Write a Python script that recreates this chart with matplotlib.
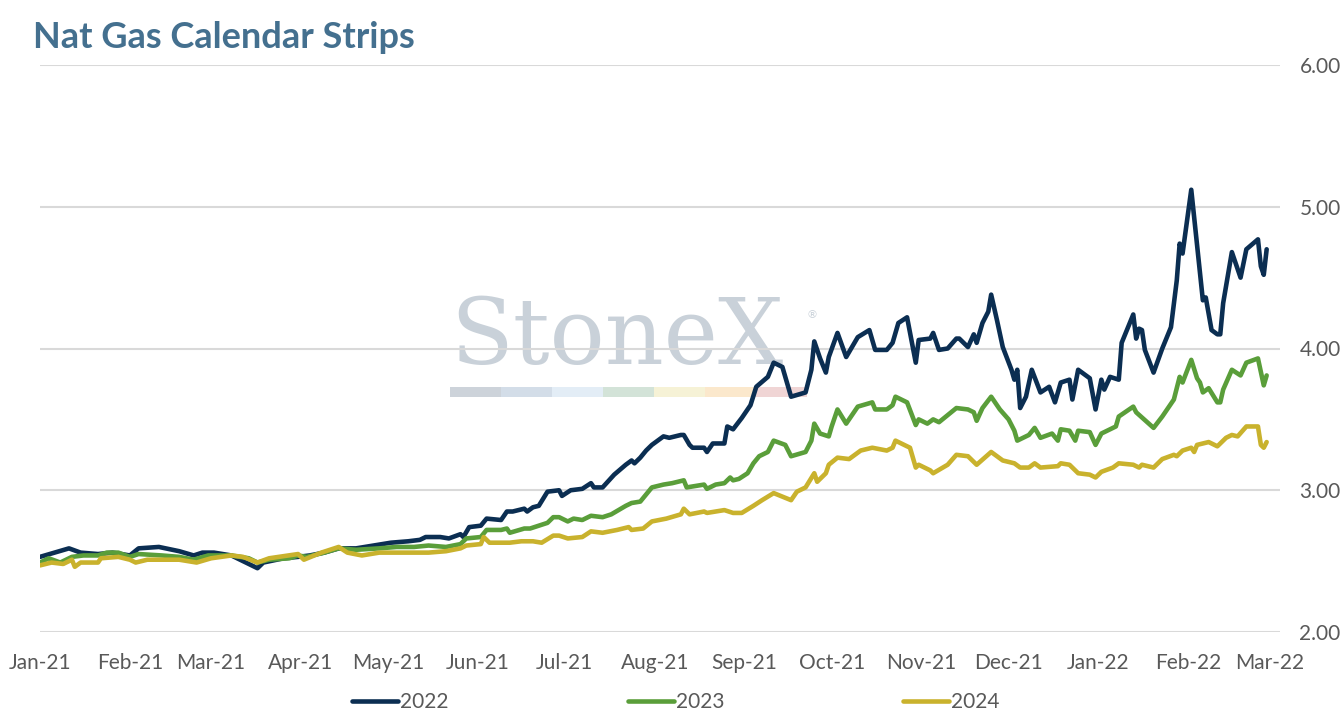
import matplotlib
matplotlib.use("Agg")
import matplotlib.pyplot as plt
import matplotlib.dates as mdates
import matplotlib.patches as mpatches
import pandas as pd

# ---------------- data ----------------
base_date = "2021-01-01"

days_2022 = [0, 10, 14, 20, 25, 31, 34, 41, 48, 53, 56, 60, 66, 69, 75, 77, 84, 89, 93, 98,
             103, 109, 115, 121, 127, 131, 133, 138, 141, 145, 146, 148, 152, 154, 159, 161,
             163, 167, 168, 170, 172, 175, 179, 180, 183, 187, 190, 191, 194, 198, 202, 204,
             205, 207, 209, 211, 215, 217, 221, 222, 224, 225, 229, 230, 232, 236, 237, 239,
             242, 245, 247, 251, 253, 256, 259, 264, 266, 267, 269, 271, 272, 275, 278, 282,
             286, 288, 292, 294, 296, 299, 302, 303, 307, 308, 310, 313, 316, 317, 320, 322,
             323, 325, 327, 328, 330, 332, 335, 336, 337, 338, 340, 342, 345, 348, 350, 352,
             355, 356, 358, 362, 364, 366, 367, 369, 372, 373, 377, 378, 379, 380, 381, 384,
             387, 390, 392, 393, 394, 397, 401, 402, 404, 406, 407, 408, 411, 414, 416, 420,
             421, 422, 423]
vals_2022 = [2.53, 2.59, 2.56, 2.55, 2.56, 2.54, 2.59, 2.60, 2.57, 2.54, 2.56, 2.56, 2.54, 2.51,
             2.45, 2.49, 2.52, 2.53, 2.54, 2.56, 2.59, 2.59, 2.61, 2.63, 2.64, 2.65, 2.67, 2.67,
             2.66, 2.69, 2.67, 2.74, 2.75, 2.80, 2.79, 2.85, 2.85, 2.87, 2.85, 2.88, 2.89, 2.99,
             3.00, 2.96, 3.00, 3.01, 3.05, 3.02, 3.02, 3.11, 3.18, 3.21, 3.19, 3.23, 3.28, 3.32,
             3.38, 3.37, 3.39, 3.39, 3.32, 3.30, 3.30, 3.27, 3.33, 3.33, 3.45, 3.43, 3.51, 3.60,
             3.73, 3.80, 3.90, 3.87, 3.66, 3.69, 3.85, 4.05, 3.93, 3.83, 3.94, 4.11, 3.94, 4.08,
             4.13, 3.99, 3.99, 4.04, 4.18, 4.22, 3.90, 4.06, 4.07, 4.11, 3.99, 4.00, 4.07, 4.07,
             4.01, 4.10, 4.04, 4.18, 4.26, 4.38, 4.20, 4.01, 3.85, 3.78, 3.85, 3.58, 3.66, 3.85,
             3.69, 3.73, 3.62, 3.76, 3.78, 3.64, 3.85, 3.79, 3.57, 3.78, 3.71, 3.80, 3.78, 4.04,
             4.24, 4.07, 4.14, 4.13, 3.99, 3.83, 4.00, 4.15, 4.48, 4.74, 4.67, 5.12, 4.34, 4.36,
             4.13, 4.10, 4.10, 4.32, 4.68, 4.50, 4.70, 4.77, 4.58, 4.52, 4.70]

days_2023 = [0, 3, 7, 11, 15, 20, 23, 27, 31, 34, 42, 48, 53, 58, 61, 66, 69, 72, 75, 79, 86,
             89, 92, 98, 103, 109, 117, 123, 129, 134, 140, 145, 147, 152, 154, 159, 161, 162,
             167, 169, 172, 175, 177, 179, 182, 184, 187, 190, 194, 197, 202, 204, 207, 209,
             211, 215, 218, 222, 223, 229, 230, 233, 236, 238, 239, 241, 244, 246, 248, 251,
             253, 257, 259, 264, 266, 267, 269, 272, 273, 275, 278, 282, 287, 288, 292, 294,
             295, 299, 302, 303, 306, 308, 310, 316, 320, 322, 323, 325, 328, 331, 334, 336,
             337, 341, 343, 345, 349, 351, 352, 355, 357, 358, 362, 364, 366, 368, 371, 372,
             377, 378, 384, 387, 391, 393, 394, 397, 399, 400, 401, 403, 406, 407, 408, 411,
             414, 416, 420, 422, 423]
vals_2023 = [2.49, 2.52, 2.49, 2.53, 2.54, 2.54, 2.56, 2.56, 2.53, 2.55, 2.54, 2.53, 2.51, 2.54,
             2.54, 2.54, 2.53, 2.52, 2.49, 2.51, 2.52, 2.54, 2.53, 2.56, 2.59, 2.58, 2.59, 2.60,
             2.60, 2.61, 2.60, 2.62, 2.66, 2.67, 2.72, 2.72, 2.73, 2.70, 2.73, 2.73, 2.75, 2.77,
             2.81, 2.81, 2.78, 2.80, 2.79, 2.82, 2.81, 2.83, 2.89, 2.91, 2.92, 2.97, 3.02, 3.04,
             3.05, 3.07, 3.02, 3.04, 3.01, 3.04, 3.05, 3.09, 3.07, 3.08, 3.12, 3.19, 3.24, 3.27,
             3.35, 3.32, 3.24, 3.27, 3.35, 3.47, 3.40, 3.38, 3.45, 3.57, 3.47, 3.59, 3.62, 3.57,
             3.57, 3.60, 3.66, 3.62, 3.46, 3.50, 3.47, 3.50, 3.48, 3.58, 3.57, 3.55, 3.49, 3.58,
             3.66, 3.57, 3.50, 3.42, 3.35, 3.39, 3.44, 3.37, 3.40, 3.35, 3.43, 3.42, 3.35, 3.42,
             3.41, 3.32, 3.40, 3.42, 3.45, 3.52, 3.59, 3.55, 3.44, 3.52, 3.64, 3.80, 3.76, 3.92,
             3.79, 3.76, 3.69, 3.72, 3.62, 3.62, 3.71, 3.85, 3.81, 3.90, 3.93, 3.74, 3.81]

days_2024 = [0, 4, 8, 11, 12, 14, 20, 21, 27, 31, 33, 37, 42, 48, 54, 59, 66, 70, 75, 79, 89,
             91, 97, 103, 106, 111, 117, 123, 129, 134, 140, 145, 147, 152, 153, 155, 162, 166,
             170, 173, 177, 179, 182, 187, 190, 194, 199, 203, 204, 208, 211, 216, 221, 222,
             224, 229, 230, 236, 239, 242, 246, 249, 253, 259, 261, 264, 267, 268, 271, 272,
             275, 279, 283, 287, 292, 294, 295, 300, 302, 303, 307, 308, 313, 316, 320, 323,
             328, 332, 336, 338, 341, 343, 345, 351, 352, 355, 358, 362, 364, 366, 370, 372,
             377, 379, 380, 384, 387, 391, 392, 394, 397, 398, 399, 403, 406, 409, 411, 413,
             416, 420, 421, 422, 423]
vals_2024 = [2.47, 2.49, 2.48, 2.51, 2.46, 2.49, 2.49, 2.52, 2.53, 2.51, 2.49, 2.51, 2.51, 2.51,
             2.49, 2.52, 2.54, 2.53, 2.49, 2.52, 2.55, 2.51, 2.56, 2.60, 2.56, 2.54, 2.56, 2.56,
             2.56, 2.56, 2.57, 2.59, 2.61, 2.62, 2.67, 2.63, 2.63, 2.64, 2.64, 2.63, 2.68, 2.68,
             2.66, 2.67, 2.71, 2.70, 2.72, 2.74, 2.72, 2.73, 2.78, 2.80, 2.83, 2.87, 2.83, 2.85,
             2.84, 2.86, 2.84, 2.84, 2.89, 2.93, 2.98, 2.93, 2.99, 3.02, 3.12, 3.06, 3.12, 3.18,
             3.23, 3.22, 3.28, 3.30, 3.28, 3.30, 3.35, 3.30, 3.16, 3.18, 3.14, 3.12, 3.18, 3.25,
             3.24, 3.18, 3.27, 3.21, 3.19, 3.16, 3.16, 3.19, 3.16, 3.17, 3.19, 3.18, 3.12, 3.11,
             3.09, 3.13, 3.16, 3.19, 3.18, 3.16, 3.18, 3.16, 3.22, 3.25, 3.24, 3.28, 3.30, 3.27,
             3.32, 3.34, 3.31, 3.37, 3.39, 3.38, 3.45, 3.45, 3.32, 3.30, 3.34]

series_names = ["2022", "2023", "2024"]
series_colors = ["#0b2e52", "#5a9e3a", "#c9b22d"]
month_ticks = pd.date_range("2021-01-01", "2022-03-01", freq="MS")
y_ticks = [2.0, 3.0, 4.0, 5.0, 6.0]
title_text = "Nat Gas Calendar Strips"
watermark_text = "StoneX"

# ---------------- figure ----------------
W, H = 1344, 724
fig = plt.figure(figsize=(W / 100, H / 100), dpi=100)
fig.patch.set_facecolor("white")

def fx(px):
    return px / W

def fy(py):
    return 1 - py / H

ax = fig.add_axes([fx(40), fy(632), fx(1280) - fx(40), fy(65) - fy(632)])
ax.patch.set_alpha(0)

# watermark (StoneX logo as faint text + colour band), under grid and lines
wm_color = "#c9d1d9"
ax.text(fx(450), fy(364), watermark_text, transform=fig.transFigure, fontsize=66,
        family="DejaVu Serif", color=wm_color, ha="left", va="baseline", zorder=0.05,
        clip_on=False)
ax.text(fx(806), fy(318), "®", transform=fig.transFigure, fontsize=8, color=wm_color,
        ha="left", va="baseline", zorder=0.05, clip_on=False)
band_colors = ["#cdd3da", "#d3dde8", "#e3edf6", "#d3e3d8", "#f6f2d6", "#fbe8cc", "#f0d5d5"]
band_x = [450, 501, 552, 603, 654, 705, 755, 807]
for i, bc in enumerate(band_colors):
    r = mpatches.Rectangle((fx(band_x[i]), fy(397)), fx(band_x[i + 1]) - fx(band_x[i]),
                           fy(387) - fy(397), transform=fig.transFigure, facecolor=bc,
                           edgecolor="none", zorder=0.05, clip_on=False)
    ax.add_patch(r)

t0 = pd.Timestamp(base_date)
to_dates = lambda d: t0 + pd.to_timedelta(d, unit="D")
all_days = [days_2022, days_2023, days_2024]
all_vals = [vals_2022, vals_2023, vals_2024]
for name, col, d, v in zip(series_names, series_colors, all_days, all_vals):
    ax.plot(to_dates(d), v, color=col, lw=3.3, solid_joinstyle="round",
            solid_capstyle="round", label=name, zorder=3)

ax.set_xlim(t0, t0 + pd.Timedelta(days=427.6))
ax.set_ylim(2.0, 6.0)
ax.set_xticks(month_ticks)
ax.xaxis.set_major_formatter(mdates.DateFormatter("%b-%y"))
ax.set_yticks(y_ticks)
ax.set_yticklabels([f"{t:.2f}" for t in y_ticks])
ax.yaxis.tick_right()
ax.grid(axis="y", color="#d9d9d9", lw=1.5, zorder=0.5)
ax.set_axisbelow(True)
for s in ax.spines.values():
    s.set_visible(False)
tick_font = "Lato"
ax.tick_params(axis="x", length=0, pad=15, labelsize=15, labelcolor="#595959")
ax.tick_params(axis="y", length=0, pad=14, labelsize=15, labelcolor="#595959")
for lab in ax.get_xticklabels() + ax.get_yticklabels():
    lab.set_fontfamily(tick_font)

# title
fig.text(fx(33), fy(37), title_text, fontsize=26, fontweight="bold", family="Lato",
         color="#44708f", ha="left", va="center")

# legend
leg = fig.legend(loc="center", bbox_to_anchor=(fx(676), fy(702)), ncol=3, frameon=False,
                 handlelength=2.2, handletextpad=0.1, columnspacing=8.6,
                 prop={"family": tick_font, "size": 15})
for t in leg.get_texts():
    t.set_color("#595959")

fig.savefig("out.png", dpi=100, facecolor="white")
